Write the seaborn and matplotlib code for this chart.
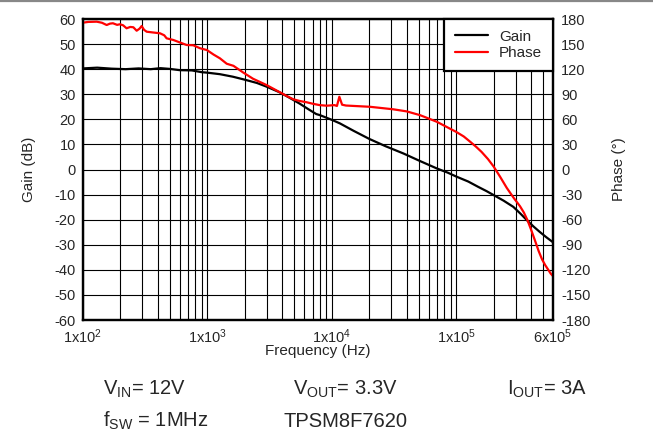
import matplotlib
matplotlib.use("Agg")
import matplotlib.pyplot as plt
import seaborn as sns
from matplotlib.lines import Line2D
from matplotlib.ticker import LogLocator, NullFormatter

# gain curve (Hz, dB)
gain_freq = [100, 130, 170, 220, 280, 350, 420, 500, 600, 750, 900, 1000,
             1260, 1600, 2000, 2500, 3000, 3800, 4500, 5500, 6500, 7500,
             8000, 10000, 11600, 15000, 20000, 27000, 37600, 50000, 70000,
             85000, 100000, 125000, 150000, 175000, 200000, 240000, 288000,
             330000, 370000, 420000, 470000, 530000, 600000]
gain_db = [40.3, 40.6, 40.2, 40.0, 40.3, 40.0, 40.4, 40.1, 39.6, 39.5, 38.8,
           38.6, 38.0, 37.0, 35.8, 34.5, 33.0, 30.8, 28.8, 26.3, 24.0, 22.1,
           21.7, 19.8, 18.4, 15.4, 12.2, 9.3, 6.4, 3.6, 0.4,
           -1.2, -2.8, -4.8, -6.9, -8.6, -10.2, -12.4, -14.9,
           -17.7, -20.2, -22.8, -24.9, -27.0, -29.0]

# phase curve (Hz, degrees)
phase_freq = [100, 110, 129, 142, 155, 165, 174, 188, 198, 210, 224, 240,
              254, 270, 285, 296, 310, 325, 360, 416, 450, 470, 532, 600,
              681, 770, 873, 990, 1120, 1260, 1430, 1620, 1940, 2330, 2990,
              3600, 4330, 4900, 5500, 6280, 7100, 8000, 9100, 10500, 11000,
              11500, 12100, 13000, 20300, 31200, 40000, 51200, 60000, 70000,
              80000, 90000, 100000, 115000, 130000, 145000, 160000, 180000,
              200000, 225000, 255000, 290000, 326000, 350000, 375000, 400000,
              430000, 460000, 490000, 520000, 550000, 575000, 600000]
phase_deg = [175.6, 176.5, 176.8, 175.5, 172.8, 174.5, 174.9, 173.0, 173.7,
             172.5, 168.9, 170.5, 170.1, 166.0, 168.5, 171.6, 167.0, 164.8,
             164.0, 162.9, 160.5, 156.9, 154.9, 152.0, 148.9, 148.6, 145.0,
             142.9, 137.5, 133.0, 126.5, 124.0, 116.0, 108.5, 101.0, 94.5,
             88.0, 84.0, 82.0, 80.4, 78.5, 77.0, 76.3, 77.0, 76.0, 87.0, 77.5,
             76.5, 75.0, 72.0, 69.5, 65.0, 61.0, 57.0,
             52.5, 48.5, 45.0, 39.5, 33.0, 27.0, 21.0, 12.5,
             3.5, -8.5, -22.0, -34.0, -44.0, -51.5, -61.0, -72.0,
             -85.0, -97.5, -107.5, -114.5, -120.0, -124.5, -127.5]

x_ticks = [1e2, 1e3, 1e4, 1e5, 6e5]
x_ticklabels = ['1x10$^{2}$', '1x10$^{3}$', '1x10$^{4}$', '1x10$^{5}$', '6x10$^{5}$']
gain_ticks = list(range(-60, 61, 10))
phase_ticks = list(range(-180, 181, 30))

sns.set_style("white")
plt.rcParams['font.family'] = ['Liberation Sans', 'DejaVu Sans']
plt.rcParams['mathtext.default'] = 'regular'

W, H = 653, 444
fig = plt.figure(figsize=(W / 100, H / 100), dpi=100)
ax = fig.add_axes([83 / W, 1 - 320 / H, 470 / W, 301 / H])
ax.set_xscale('log')

sns.lineplot(x=gain_freq, y=gain_db, ax=ax, color='black', lw=1.6,
             label='Gain', legend=False, errorbar=None)
ax2 = ax.twinx()
sns.lineplot(x=phase_freq, y=phase_deg, ax=ax2, color='#ff0000', lw=1.6,
             label='Phase', legend=False, errorbar=None)

ax.set_xlim(1e2, 6e5)
ax.set_ylim(-60, 60)
ax2.set_ylim(-180, 180)

ax.set_xticks(x_ticks)
ax.set_xticklabels(x_ticklabels)
ax.xaxis.set_minor_locator(LogLocator(base=10, subs=range(2, 10)))
ax.xaxis.set_minor_formatter(NullFormatter())
ax.set_yticks(gain_ticks)
ax.set_yticklabels([str(v) for v in gain_ticks])
ax2.set_yticks(phase_ticks)
ax2.set_yticklabels([str(v) for v in phase_ticks])

ax.grid(True, which='both', color='black', lw=0.8)
ax.tick_params(which='both', length=0, labelsize=10.5, pad=5)
ax2.tick_params(which='both', length=0, labelsize=10.5, pad=6)

ax.set_xlabel('Frequency (Hz)', fontsize=11, labelpad=-1)
ax.set_ylabel('Gain (dB)', fontsize=11)
ax.yaxis.set_label_coords(-0.1, 0.5)
ax2.set_ylabel('Phase (°)', fontsize=11)
ax2.yaxis.set_label_coords(1.125, 0.5)

for a in (ax, ax2):
    for s in a.spines.values():
        s.set_color('black')
        s.set_linewidth(1.6)

handles = ax.get_lines()[:1] + ax2.get_lines()[:1]
leg = ax2.legend(handles, ['Gain', 'Phase'], loc='upper right', fontsize=11,
                 frameon=True, fancybox=False, framealpha=1, edgecolor='black',
                 borderaxespad=0, borderpad=0.7, labelspacing=0.15,
                 handlelength=2.2, handletextpad=0.7)
leg.get_frame().set_linewidth(1.6)

# gray rule along the top edge
fig.add_artist(Line2D([0, 1], [1 - 1.5 / H, 1 - 1.5 / H], color='#888888',
                      lw=1.6, transform=fig.transFigure))

# test conditions under the chart
notes = [
    (103, 395, 'V$_{IN}$= 12V'),
    (293, 395, 'V$_{OUT}$= 3.3V'),
    (507, 395, 'I$_{OUT}$= 3A'),
    (103, 427, 'f$_{SW}$ = 1MHz'),
    (283, 427, 'TPSM8F7620'),
]
for px, py, txt in notes:
    fig.text(px / W, 1 - py / H, txt, fontsize=14.5, ha='left', va='baseline')

fig.savefig('out.png', dpi=100)
